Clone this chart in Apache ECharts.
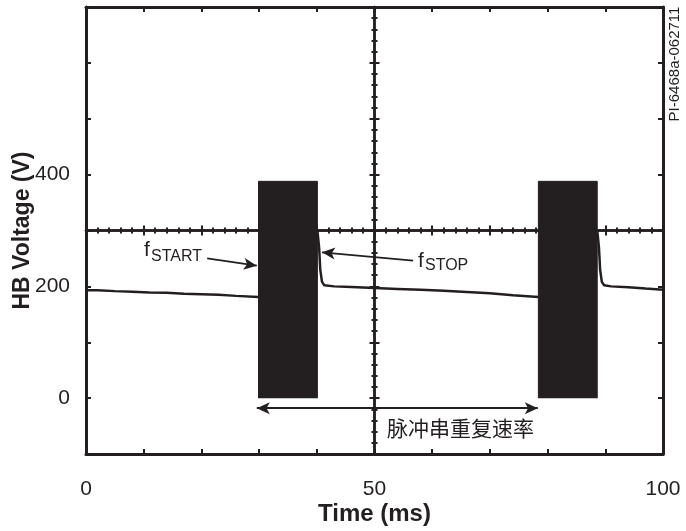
<!DOCTYPE html>
<html lang="zh-CN" style="height: 100%">
<head>
    <meta charset="utf-8" />
    <script src="https://cdn.jsdelivr.net/npm/echarts@6/dist/echarts.min.js"></script>
</head>
<body style="height: 100%; margin: 0; background: #fff">
    <div id="container" style="width: 686px;height: 531px;"></div>
    <script type="text/javascript">
        var dom = document.getElementById('container');
        var myChart = echarts.init(dom, null, { renderer: 'canvas' });

        const ink = '#231f20';
        const font = "'Liberation Sans', Arial, sans-serif";

        // tick labels shown on the axes
        const xTickLabels = [0, 50, 100];
        const yTickLabels = [0, 200, 400];

        // HB voltage trace (ms, V)
        const traceA = [[0, 193], [2, 193], [5, 191.5], [8, 190.5], [11, 189], [14, 188.5], [17, 187],
            [20, 186], [23, 185], [26, 183], [29.9, 181]];
        const traceB = [[40.1, 300], [40.4, 270], [40.6, 230], [40.9, 208], [41.3, 202], [43, 200],
            [46, 199], [50, 197], [54, 195.5], [58, 194], [62, 192], [66, 190], [70, 187.5],
            [74, 184], [78.4, 181]];
        const traceC = [[88.6, 300], [88.9, 270], [89.1, 230], [89.4, 208], [89.8, 202], [91, 200],
            [94, 198.5], [97, 196], [100, 194]];

        // switching bursts (envelope 0 .. peak)
        const burst1 = [[29.9, 0], [29.9, 388], [40.1, 388], [40.1, 0]];
        const burst2 = [[78.4, 0], [78.4, 388], [88.6, 388], [88.6, 0]];

        // annotation arrows
        const startArrow = [[21.0, 250], [29.6, 237]];
        const stopArrow = [[56.7, 246], [40.9, 261]];
        const periodArrow = [[29.6, -18], [78.3, -18]];

        function frameAxis(extra) {
            return Object.assign({
                type: 'value',
                axisLine: { show: true, onZero: false, lineStyle: { color: ink, width: 3 } },
                axisTick: { show: true, inside: true, length: 5, lineStyle: { color: ink, width: 2 } },
                axisLabel: { show: false },
                splitLine: { show: false }
            }, extra);
        }

        function crossAxis(extra, inside, zeroIdx) {
            return Object.assign({
                type: 'value',
                interval: 100,
                axisLine: { show: true, onZero: true, onZeroAxisIndex: zeroIdx, lineStyle: { color: ink, width: 2.5 } },
                axisTick: { show: true, inside: inside, length: 5, lineStyle: { color: ink, width: 2 } },
                minorTick: { show: true, splitNumber: 5, length: 3, lineStyle: { color: ink, width: 2 } },
                axisLabel: { show: false },
                splitLine: { show: false },
                minorSplitLine: { show: false }
            }, extra);
        }

        function trace(data) {
            return {
                type: 'line', xAxisIndex: 0, yAxisIndex: 0, data: data,
                symbol: 'none', silent: true,
                lineStyle: { color: ink, width: 2.5 }
            };
        }

        function burst(data) {
            return {
                type: 'line', xAxisIndex: 0, yAxisIndex: 0, data: data,
                symbol: 'none', silent: true,
                lineStyle: { color: ink, width: 1 },
                areaStyle: { color: ink, opacity: 1, origin: 0 }
            };
        }

        function arrow(pts, both) {
            return [{ coord: pts[0], symbol: both ? 'arrow' : 'none' }, { coord: pts[1], symbol: 'arrow' }];
        }

        var option = {
            animation: false,
            backgroundColor: '#fff',
            grid: { left: 86, right: 23, top: 7, bottom: 77, outerBoundsMode: 'none', containLabel: false },
            xAxis: [
                frameAxis({
                    position: 'bottom', min: 0, max: 100, interval: 10,
                    name: 'Time (ms)', nameLocation: 'middle', nameGap: 48, nameMoveOverlap: false,
                    nameTextStyle: { color: ink, fontSize: 24, fontWeight: 'bold', fontFamily: font },
                    axisLabel: {
                        show: true, margin: 25, color: ink, fontSize: 21, fontFamily: font,
                        formatter: function (v) { return xTickLabels.indexOf(v) >= 0 ? String(v) : ''; }
                    }
                }),
                frameAxis({ position: 'top', min: 0, max: 100, interval: 10 }),
                crossAxis({ position: 'bottom', min: -50, max: 50, interval: 10 }, true, 2),
                crossAxis({ position: 'bottom', min: -50, max: 50, interval: 10 }, false, 2)
            ],
            yAxis: [
                frameAxis({
                    position: 'left', min: -100, max: 700, interval: 100,
                    name: 'HB Voltage (V)', nameLocation: 'middle', nameGap: 52, nameMoveOverlap: false,
                    nameTextStyle: { color: ink, fontSize: 23, fontWeight: 'bold', fontFamily: font },
                    axisLabel: {
                        show: true, margin: 16, color: ink, fontSize: 21, fontFamily: font,
                        formatter: function (v) { return yTickLabels.indexOf(v) >= 0 ? String(v) : ''; }
                    }
                }),
                frameAxis({ position: 'right', min: -100, max: 700, interval: 100 }),
                crossAxis({ position: 'left', min: -400, max: 400 }, true, 2),
                crossAxis({ position: 'left', min: -400, max: 400 }, false, 2)
            ],
            series: [
                burst(burst1),
                burst(burst2),
                trace(traceA),
                trace(traceB),
                trace(traceC),
                {
                    type: 'line', xAxisIndex: 0, yAxisIndex: 0, data: [],
                    silent: true,
                    markLine: {
                        silent: true,
                        animation: false,
                        symbolSize: [9, 13],
                        label: { show: false },
                        lineStyle: { color: ink, width: 1.8, type: 'solid' },
                        emphasis: { disabled: true },
                        data: [arrow(startArrow, false), arrow(stopArrow, false), arrow(periodArrow, true)]
                    }
                }
            ],
            graphic: [
                { type: 'text', left: 144, top: 240, style: { text: 'f', fill: ink, font: '21px ' + font } },
                { type: 'text', left: 151, top: 249, style: { text: 'START', fill: ink, font: '16px ' + font } },
                { type: 'text', left: 418, top: 251, style: { text: 'f', fill: ink, font: '21px ' + font } },
                { type: 'text', left: 425, top: 258, style: { text: 'STOP', fill: ink, font: '16px ' + font } },
                {
                    type: 'text', left: 387, top: 418,
                    style: { text: '脉冲串重复速率', fill: ink, font: "21px 'Noto Sans CJK SC'" }
                },
                {
                    type: 'text', x: 675, y: 64, rotation: Math.PI / 2,
                    style: { text: 'PI-6468a-062711', fill: ink, font: '15px ' + font, align: 'center', verticalAlign: 'middle' }
                }
            ]
        };

        myChart.setOption(option);
        window.addEventListener('resize', myChart.resize);
    </script>
</body>
</html>
